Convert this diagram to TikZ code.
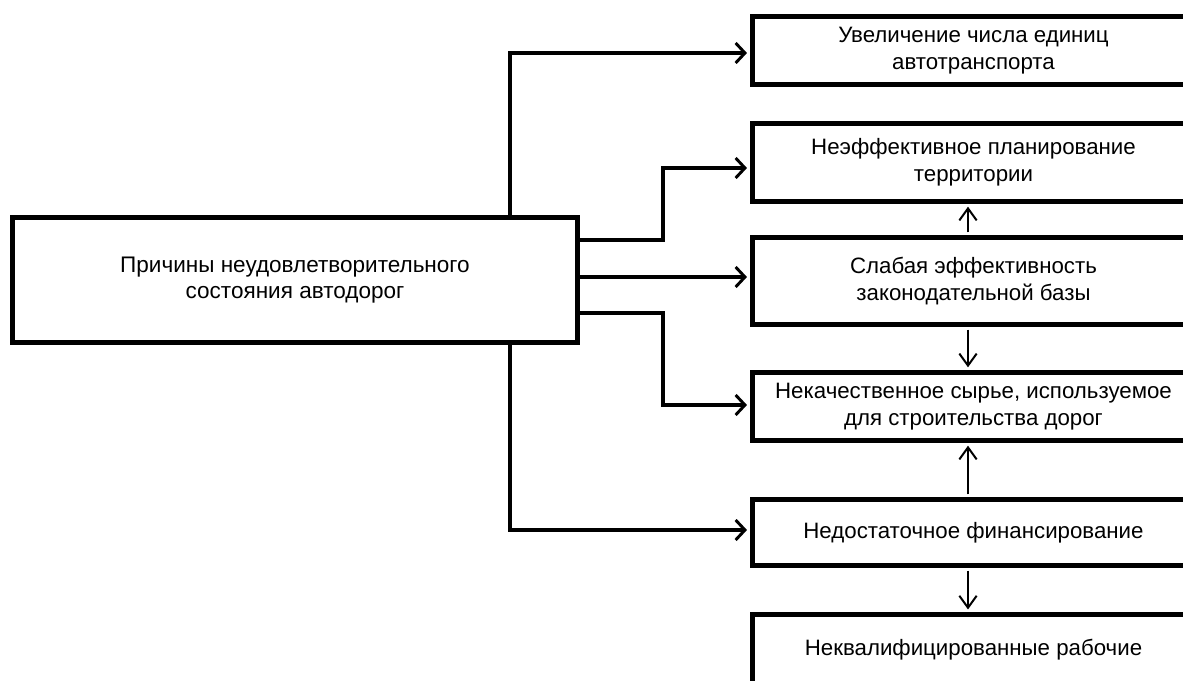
\documentclass[tikz,border=0pt]{standalone}
\usepackage{fontspec}
\setmainfont{Liberation Sans}
\usetikzlibrary{arrows.meta,calc}
\begin{document}
\begin{tikzpicture}[x=0.75pt,y=-0.75pt,
  box/.style={draw, line width=4pt, rectangle, align=center, inner sep=0pt,
    font=\fontsize{16.7}{20.25}\selectfont},
  rbox/.style={box, minimum width=332pt},
  conn/.style={line width=2.4pt, -{Straight Barb[length=7pt,width=15pt,line width=2.2pt]}, shorten >=1.9pt},
  vconn/.style={line width=1.5pt, -{Straight Barb[length=9pt,width=13pt,line width=1.5pt]}, shorten >=1.9pt, shorten <=1.9pt}
]
\useasboundingbox (0,0) rectangle (1183,681);
\clip (0,0) rectangle (1183,681);
\fill[white] (0,0) rectangle (1183,681);

\node[box, minimum width=423.75pt, minimum height=93.75pt,
  font=\fontsize{16.9}{19.5}\selectfont] (main) at (295,280)
  {Причины неудовлетворительного\\состояния автодорог};

\node[rbox, minimum height=51pt]    (b1) at (973.5,50.5)  {Увеличение числа единиц\\автотранспорта};
\node[rbox, minimum height=58.5pt]  (b2) at (973.5,162.5) {Неэффективное планирование\\территории};
\node[rbox, minimum height=65.25pt] (b3) at (973.5,281)   {Слабая эффективность\\законодательной базы};
\node[rbox, minimum height=51pt]    (b4) at (973.5,406.5) {Некачественное сырье, используемое\\для строительства дорог};
\node[rbox, minimum height=49.5pt]  (b5) at (973.5,532.5) {Недостаточное финансирование};
\node[rbox, minimum height=53pt]    (b6) at (973.5,650)   {Неквалифицированные рабочие};

\coordinate (tx) at (510,0);
\coordinate (cx) at (663,0);
\coordinate (vx) at (968,0);

\draw[conn] (tx |- main.north) |- ($(b1.west)+(0,2.5)$);
\draw[conn] (tx |- main.south) |- ($(b5.west)+(0,-2.5)$);
\draw[conn] ($(main.east)+(0,-40)$) -| ($(cx |- b2.west)+(0,5.5)$) -- ($(b2.west)+(0,5.5)$);
\draw[conn] ($(main.east)+(0,-3)$) -- ($(b3.west)+(0,-4)$);
\draw[conn] ($(main.east)+(0,33)$) -| ($(cx |- b4.west)+(0,-1.5)$) -- ($(b4.west)+(0,-1.5)$);

\draw[vconn] (vx |- b3.north) -- (vx |- b2.south);
\draw[vconn] (vx |- b3.south) -- (vx |- b4.north);
\draw[vconn] (vx |- b5.north) -- (vx |- b4.south);
\draw[vconn] (vx |- b5.south) -- (vx |- b6.north);
\end{tikzpicture}
\end{document}
